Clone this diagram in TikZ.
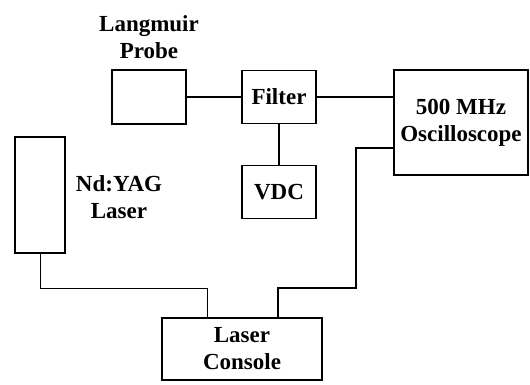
\documentclass[tikz,border=0pt]{standalone}
\usepackage{fontspec}
\setmainfont{Liberation Serif}
\begin{document}
\begin{tikzpicture}[x=1pt,y=-1pt,
  box/.style={draw, line width=1.6pt, inner sep=0pt, align=center, font=\fontsize{23}{27}\selectfont\bfseries},
  lbl/.style={inner sep=0pt, align=center, font=\fontsize{23}{27}\selectfont\bfseries},
  wire/.style={line width=1.2pt},
  thin/.style={line width=0.9pt}]
\useasboundingbox (0,0) rectangle (530,385);
\node[box, minimum width=74pt, minimum height=54pt] (probe) at (149,97) {};
\node[box, minimum width=74pt, minimum height=53pt] (filter) at (279,97) {Filter};
\node[box, minimum width=134pt, minimum height=105pt] (osc) at (461,122.5) {500 MHz\\Oscilloscope};
\node[box, minimum width=74pt, minimum height=53pt] (vdc) at (279,192) {VDC};
\node[box, minimum width=50pt, minimum height=116pt] (yag) at (40,195) {};
\node[box, minimum width=160pt, minimum height=62pt] (console) at (242,349) {Laser\\Console};
\node[lbl] (lp) at (149,37) {Langmuir\\Probe};
\node[lbl] (ly) at (119,197) {Nd:YAG\\Laser};
\coordinate (o1) at (394,148);
\coordinate (o2) at (356,148);
\coordinate (o3) at (356,288);
\coordinate (o4) at (278,288);
\coordinate (y2) at (40,288);
\coordinate (y3) at (207,288);
\draw[wire] (probe.east) -- (filter.west);
\draw[wire] (filter.east) -- (filter.east -| osc.west);
\draw[wire] (filter.south) -- (vdc.north);
\draw[wire] (o1) -- (o2) -- (o3) -- (o4) -- (o4 |- console.north);
\draw[thin] (yag.south) -- (y2) -- (y3) -- (y3 |- console.north);
\end{tikzpicture}
\end{document}
